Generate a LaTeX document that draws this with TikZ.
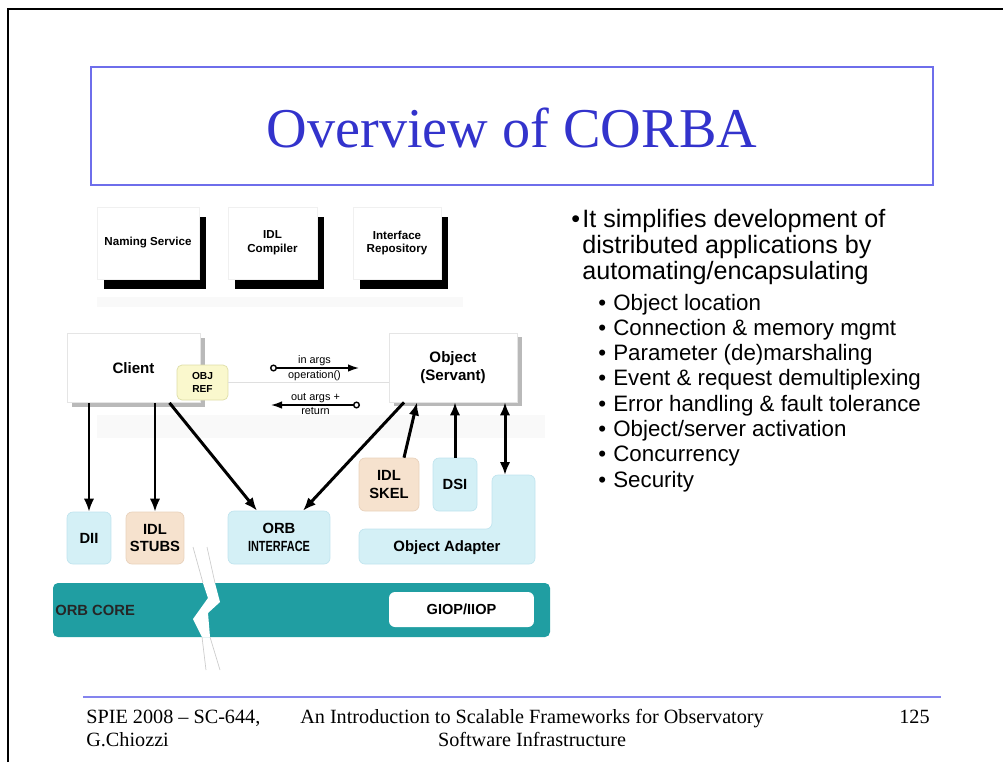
\documentclass[tikz,border=0pt]{standalone}
\usepackage{fontspec}
\setmainfont{Liberation Serif}
\setsansfont{Liberation Sans}
\usepackage{xcolor}
\usepackage{graphicx}
\usepackage{tikz}
\usetikzlibrary{arrows.meta,positioning,shadows,calc}
\definecolor{TitleBlue}{RGB}{51,51,204}
\definecolor{FrameBlue}{RGB}{110,110,235}
\definecolor{PaleCyan}{RGB}{212,240,246}
\definecolor{CyanEdge}{RGB}{192,228,238}
\definecolor{PalePeach}{RGB}{246,226,206}
\definecolor{PeachEdge}{RGB}{232,210,188}
\definecolor{PaleYellow}{RGB}{250,248,205}
\definecolor{YellowEdge}{RGB}{222,222,168}
\definecolor{CoreTeal}{RGB}{32,158,162}

\begin{document}
\begin{tikzpicture}[x=0.02cm, y=-0.02cm,
    svcbox/.style={draw=gray!12, fill=white, minimum width=#1, minimum height=1.44cm, align=center, inner sep=1pt,
        font=\sffamily\bfseries\fontsize{6.6}{7.8}\selectfont,
        drop shadow={fill=black, opacity=1, shadow xshift=0.14cm, shadow yshift=-0.19cm}},
    endbox/.style={draw=gray!20, fill=white, minimum width=#1, minimum height=1.38cm, align=center,
        font=\sffamily\bfseries\fontsize{8.6}{10.5}\selectfont,
        drop shadow={fill=gray!55, opacity=1, shadow xshift=0.1cm, shadow yshift=-0.08cm}},
    cyanbox/.style={draw=CyanEdge, fill=PaleCyan, rounded corners=0.12cm, align=center, inner sep=1pt,
        font=\sffamily\bfseries\fontsize{8.4}{10.2}\selectfont},
    peachbox/.style={cyanbox, draw=PeachEdge, fill=PalePeach},
    arr/.style={line width=1.7pt, -{Latex[length=2.6mm,width=2.1mm]}},
    msg/.style={line width=0.8pt, {Circle[open,length=1.4mm]}-{Latex[length=2.2mm,width=1.5mm]}},
    msgtext/.style={font=\sffamily\fontsize{6.2}{7}\selectfont, inner sep=1pt},
    bigbullet/.style={anchor=base west, inner sep=0pt, font=\sffamily\fontsize{14.3}{16}\selectfont},
    smallbullet/.style={anchor=base west, inner sep=0pt, font=\sffamily\fontsize{12.7}{14}\selectfont},
    foot/.style={inner sep=0pt, font=\fontsize{11.5}{14}\selectfont}
]
\useasboundingbox (0,0) rectangle (1003,762);

% slide frame and title
\draw[line width=1.6pt] (8,762) -- (8,9) -- (1003,9);
\draw[FrameBlue, line width=1.1pt] (91,67) rectangle (933,185);
\node[TitleBlue, font=\fontsize{32}{36}\selectfont] (title) at (512,128) {Overview of CORBA};

% services
\fill[gray!5] (97,297) rectangle (463,307);
\node[svcbox=2.04cm] (naming) at (148,243) {Naming Service};
\node[svcbox=1.78cm] (idlc) at (272.5,243) {IDL\\Compiler};
\node[svcbox=1.76cm] (ifrep) at (397,243) {Interface\\Repository};

% client and servant
\fill[gray!5] (97,415) rectangle (545,438);
\node[endbox=2.66cm] (client) at (133.5,368) {Client};
\node[endbox=2.56cm] (obj) at (453,367.5) {Object\\(Servant)};
\node[draw=YellowEdge, fill=PaleYellow, rounded corners=0.1cm, minimum width=1.02cm, minimum height=0.7cm,
    align=center, inner sep=1pt, font=\sffamily\bfseries\fontsize{5.8}{7.8}\selectfont] (objref) at (202.5,382.5) {OBJ\\REF};
\draw[gray!25] (objref.east) -- (objref.east -| obj.west);

\coordinate (inA) at (270,368);
\coordinate (inB) at (359,368);
\coordinate (outA) at (360,405);
\coordinate (outB) at (271,405);
\draw[msg] (inA) -- (inB);
\draw[msg] (outA) -- (outB);
\node[msgtext, above] (inargs) at ($(inA)!0.5!(inB)$) {in args};
\node[msgtext, below] (oper) at ($(inA)!0.5!(inB)$) {operation()};
\node[msgtext, above] (outargs) at ($(outA)!0.5!(outB)$) {out args +};
\node[msgtext, below] (ret) at ($(outA)!0.5!(outB)$) {return};

% ORB pieces
\node[cyanbox, minimum width=0.88cm, minimum height=1.04cm] (dii) at (89,538) {DII};
\node[peachbox, minimum width=1.16cm, minimum height=1.04cm] (stubs) at (155,538) {IDL\\STUBS};
\node[cyanbox, minimum width=2.04cm, minimum height=1.06cm] (orbif) at (279,537.5) {ORB\\\scalebox{0.74}[1]{INTERFACE}};
\node[peachbox, minimum width=1.2cm, minimum height=1.06cm] (skel) at (389,484.5) {IDL\\SKEL};
\node[cyanbox, minimum width=0.88cm, minimum height=1.06cm] (dsi) at (455,484.5) {DSI};
\draw[cyanbox] (359,529) -- (492,529) -- (492,475) -- (535,475) -- (535,564) -- (359,564) -- cycle;
\node[font=\sffamily\bfseries\fontsize{8.5}{10}\selectfont] (oa) at (447,548) {Object Adapter};
\coordinate (oatop) at (505,475);

% ORB core
\fill[CoreTeal, rounded corners=0.1cm] (53,583) rectangle (550,637);
\node[anchor=west, inner sep=0pt, text=black!85, font=\sffamily\bfseries\fontsize{8.4}{10}\selectfont] (core) at (55,610) {ORB CORE};
\node[fill=white, rounded corners=0.12cm, minimum width=2.9cm, minimum height=0.7cm,
    font=\sffamily\bfseries\fontsize{8.3}{10}\selectfont] (giop) at (461.5,609.5) {GIOP/IIOP};

% break through the core
\fill[white] (203,583) -- (208,598) -- (193,619) -- (202,637) -- (210,637) -- (208,613) -- (220,602) -- (215,583) -- cycle;
\draw[gray!40, line width=0.4pt] (193,547) -- (203,583) (207,547) -- (215,583)
    (202,637) -- (206,670) (210,637) -- (220,670);

% connectors
\draw[arr] (client.south -| dii.north) -- (dii.north);
\draw[arr] (client.south -| stubs.north) -- (stubs.north);
\draw[arr] ([xshift=0.72cm]client.south) -- ([xshift=-0.44cm]orbif.north);
\draw[arr] ([xshift=-0.98cm]obj.south) -- ([xshift=0.48cm]orbif.north);
\draw[arr] ([xshift=0.3cm]skel.north) -- ([xshift=-0.72cm]obj.south);
\draw[arr] (dsi.north) -- (dsi.north |- obj.south);
\draw[arr, {Latex[length=2.6mm,width=2.1mm]}-{Latex[length=2.6mm,width=2.1mm]}] (oatop) -- (oatop |- obj.south);

% bullets
\node[bigbullet] (dot0) at (571,227) {\textbullet};
\node[bigbullet] (intro1) at (582,227) {It simplifies development of};
\node[bigbullet] (intro2) at (582,253) {distributed applications by};
\node[bigbullet] (intro3) at (582,279) {automating/encapsulating};
\foreach \txt [count=\i] in {{Object location}, {Connection \& memory mgmt}, {Parameter (de)marshaling},
    {Event \& request demultiplexing}, {Error handling \& fault tolerance}, {Object/server activation},
    {Concurrency}, {Security}} {
  \node[smallbullet] (dot\i) at (598,{310+25.3*(\i-1)}) {\textbullet};
  \node[smallbullet] (sub\i) at (613,{310+25.3*(\i-1)}) {\txt};
}

% footer
\draw[FrameBlue!85, line width=1.2pt] (83,697) -- (941,697);
\node[foot, anchor=base west] (event) at (86,723) {SPIE 2008 -- SC-644,};
\node[foot, anchor=base west] (author) at (86,746) {G.Chiozzi};
\node[foot, anchor=base] (course1) at (532,723) {An Introduction to Scalable Frameworks for Observatory};
\node[foot, anchor=base] (course2) at (532,746) {Software Infrastructure};
\node[foot, anchor=base east] (page) at (930,723) {125};
\end{tikzpicture}
\end{document}
